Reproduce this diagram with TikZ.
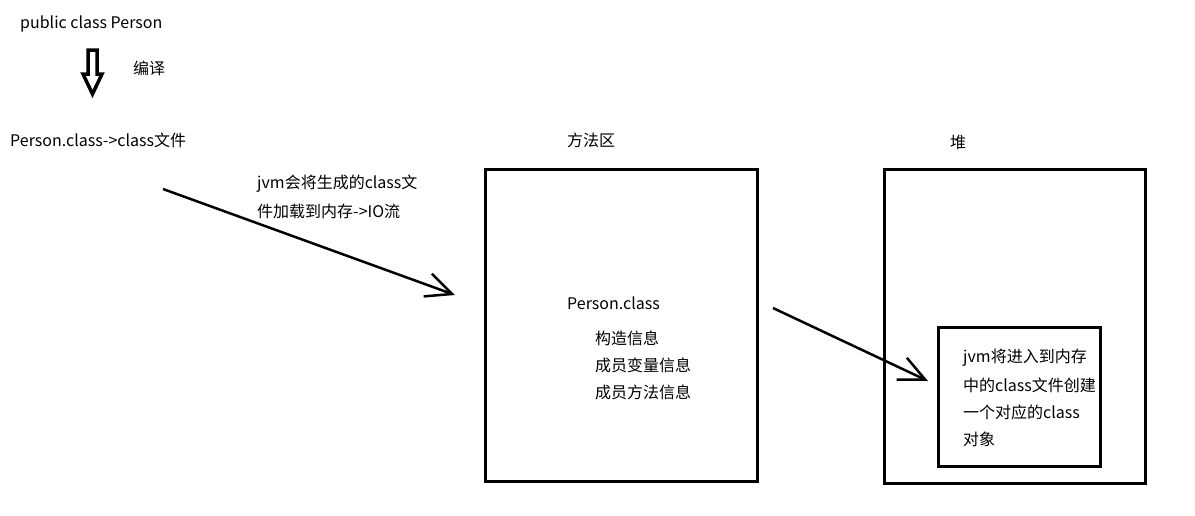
\documentclass[tikz,border=0pt]{standalone}
\usepackage{fontspec}
\setmainfont{Noto Sans CJK SC}
\usetikzlibrary{arrows.meta, positioning}

\tikzset{
  txt/.style={font=\fontsize{16}{18}\selectfont, inner sep=0pt, anchor=west},
  box/.style={draw, line width=3pt, inner sep=0pt},
  arr/.style={line width=2.5pt, -{Straight Barb[length=26pt, width=24pt]}},
}

\begin{document}
\begin{tikzpicture}[x=1pt, y=-1pt]
  % 画布
  \useasboundingbox (0,0) rectangle (1195,515);

  % 源文件 -> 编译
  \node[txt] (src) at (20,24) {public class Person};
  \draw[line width=3.5pt, line join=miter]
    (88,50) -- (97,50) -- (97,74) -- (102,74) -- (92.5,94) -- (83,74) -- (88,74) -- cycle;
  \node[txt] (compile) at (133,68) {编译};
  \node[txt] (clsfile) at (10,140) {Person.class-{}>class文件};

  % 加载说明
  \node[txt] (load1) at (257,184) {jvm会将生成的class文};
  \node[txt] (load2) at (257,211) {件加载到内存-{}>IO流};

  % 方法区
  \node[txt] (mlabel) at (567,140) {方法区};
  \node[box, minimum width=272pt, minimum height=312pt] (mbox) at (621,325) {};
  \node[txt] (pcls) at (567,303) {Person.class};
  \node[txt] (info1) at (595,338) {构造信息};
  \node[txt] (info2) at (595,365) {成员变量信息};
  \node[txt] (info3) at (595,392) {成员方法信息};

  % 堆
  \node[txt] (hlabel) at (950,142) {堆};
  \node[box, minimum width=261pt, minimum height=314pt] (hbox) at (1014.5,326) {};
  \node[box, minimum width=162pt, minimum height=139pt] (obox) at (1019,396.5) {};
  \node[txt] (obj1) at (963,358) {jvm将进入到内存};
  \node[txt] (obj2) at (963,385) {中的class文件创建};
  \node[txt] (obj3) at (963,412) {一个对应的class};
  \node[txt] (obj4) at (963,439) {对象};

  % 箭头
  \coordinate (a1s) at (163,189);
  \coordinate (a1e) at (455,295);
  \coordinate (a2s) at (773,308);
  \coordinate (a2e) at (928,381);
  \draw[arr] (a1s) -- (a1e);
  \draw[arr] (a2s) -- (a2e);
\end{tikzpicture}
\end{document}
